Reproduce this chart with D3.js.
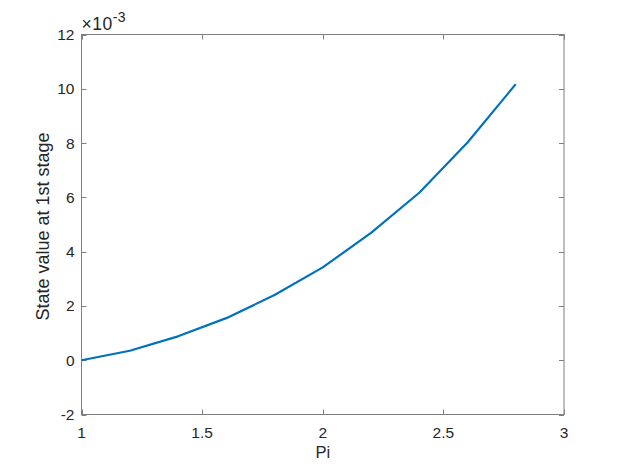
<!DOCTYPE html>
<html><head><meta charset="utf-8">
<script src="https://cdn.jsdelivr.net/npm/d3@7"></script>
<style>body{margin:0;background:#fff}svg{display:block}text{font-family:"Liberation Sans",Arial,Helvetica,sans-serif;fill:#262626}</style>
</head><body>
<svg id="c" width="623" height="466"></svg>
<script>
const piValues = [1, 1.2, 1.4, 1.6, 1.8, 2.0, 2.2, 2.4, 2.6, 2.8];
const stateValues = [0, 0.00035, 0.00088, 0.00155, 0.0024, 0.00342, 0.00469, 0.00617, 0.00802, 0.01017];
const xTicks = [1, 1.5, 2, 2.5, 3];
const xTickLabels = ["1", "1.5", "2", "2.5", "3"];
const yTicks = [-2, 0, 2, 4, 6, 8, 10, 12];
const yTickLabels = ["-2", "0", "2", "4", "6", "8", "10", "12"];

const svg = d3.select("#c");
const L = 81.5, R = 564, T = 34.5, B = 414.5;
const x = d3.scaleLinear().domain([1, 3]).range([L, R]);
const y = d3.scaleLinear().domain([-0.002, 0.012]).range([B, T]);
const axCol = "#7f7f7f";
const tl = 5;

svg.append("rect").attr("x", L).attr("y", T).attr("width", R - L).attr("height", B - T)
  .attr("fill", "none").attr("stroke", axCol).attr("stroke-width", 1);

const g = svg.append("g");
xTicks.forEach((t, i) => {
  const px = Math.round(x(t)) + 0.5;
  g.append("line").attr("x1", px).attr("x2", px).attr("y1", B).attr("y2", B - tl).attr("stroke", axCol);
  g.append("line").attr("x1", px).attr("x2", px).attr("y1", T).attr("y2", T + tl).attr("stroke", axCol);
  g.append("text").attr("x", x(t)).attr("y", B + 23.5).attr("text-anchor", "middle")
    .attr("font-size", 15.5).text(xTickLabels[i]);
});
yTicks.forEach((t, i) => {
  const py = Math.round(y(t * 1e-3)) + 0.5;
  g.append("line").attr("x1", L).attr("x2", L + tl).attr("y1", py).attr("y2", py).attr("stroke", axCol);
  g.append("line").attr("x1", R).attr("x2", R - tl).attr("y1", py).attr("y2", py).attr("stroke", axCol);
  g.append("text").attr("x", L - 7).attr("y", y(t * 1e-3) + 5.5).attr("text-anchor", "end")
    .attr("font-size", 15.5).text(yTickLabels[i]);
});

const ex = svg.append("text").attr("x", L).attr("y", 29.5).attr("font-size", 17.5).attr("letter-spacing", 0.5);
ex.append("tspan").text("\u00d710");
ex.append("tspan").attr("dy", -8).attr("font-size", 14).text("-3");

svg.append("path").datum(piValues.map((p, i) => [p, stateValues[i]]))
  .attr("fill", "none").attr("stroke", "#0072BD").attr("stroke-width", 2.2)
  .attr("stroke-linejoin", "round")
  .attr("d", d3.line().x(d => x(d[0])).y(d => y(d[1])));

svg.append("text").attr("x", (L + R) / 2).attr("y", 457.5).attr("text-anchor", "middle")
  .attr("font-size", 16.5).text("Pi");
svg.append("text").attr("transform", `translate(48.5,226.5) rotate(-90)`)
  .attr("text-anchor", "middle").attr("font-size", 18).text("State value at 1st stage");
</script>
</body></html>
